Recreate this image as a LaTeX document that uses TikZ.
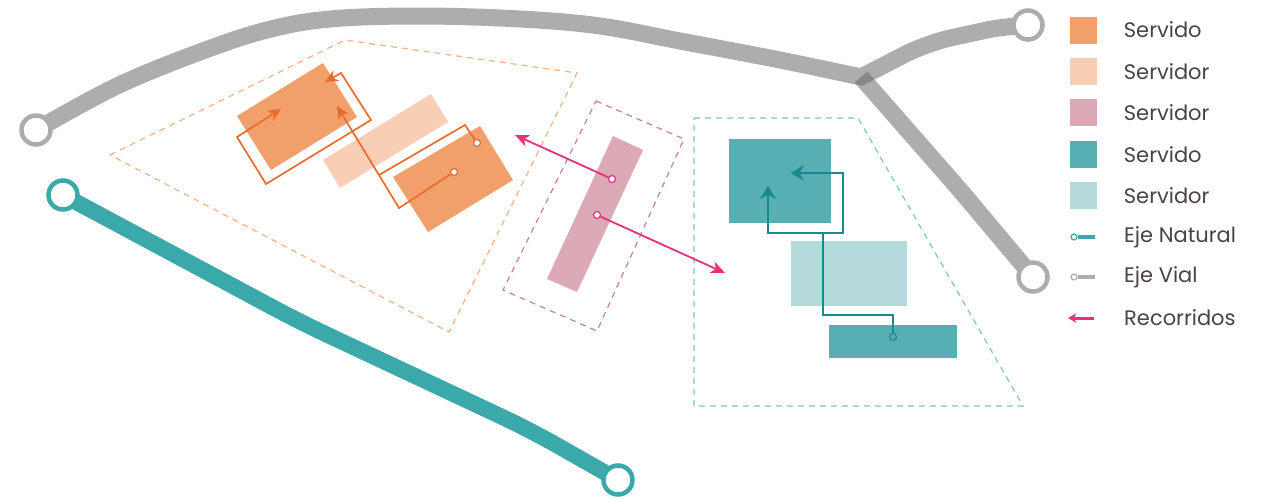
\documentclass[tikz,border=0pt]{standalone}
\usepackage{fontspec}
\setmainfont{Poppins}
\usepackage{tikz}
\usetikzlibrary{arrows.meta,calc,positioning}
\pgfdeclarelayer{fondo}
\pgfsetlayers{fondo,main}
\definecolor{naranja}{HTML}{F1A06B}
\definecolor{naranjaclaro}{HTML}{F8CFB4}
\definecolor{rosa}{HTML}{DCA9B6}
\definecolor{turquesa}{HTML}{57AFB3}
\definecolor{turquesaclaro}{HTML}{B5DADC}
\definecolor{lineanaranja}{HTML}{E96C2C}
\definecolor{linearosa}{HTML}{E6307A}
\definecolor{lineaturquesa}{HTML}{178A8E}
\definecolor{puntnaranja}{HTML}{F7AF84}
\definecolor{puntrosa}{HTML}{CC7C9E}
\definecolor{puntturquesa}{HTML}{7EC5C8}
\definecolor{gris}{HTML}{6A6A6A}
\definecolor{grisclaro}{HTML}{ADADAD}
\definecolor{camino}{HTML}{3BA8AA}
\definecolor{texto}{HTML}{4A4244}
\tikzset{
  vial/.style={draw=gris,line width=17pt,opacity=0.55,rounded corners=20pt},
  natural/.style={draw=camino,line width=16pt,rounded corners=30pt},
  extremo/.style={circle,draw=#1,fill=white,line width=4.5pt,minimum size=29pt,inner sep=0pt},
  zona/.style={draw=#1,line width=1.2pt,dash pattern=on 6pt off 5pt},
  recO/.style={draw=lineanaranja,line width=1.7pt,line join=miter},
  recR/.style={draw=linearosa,line width=1.8pt},
  recT/.style={draw=lineaturquesa,line width=1.7pt},
  flechaO/.tip={Stealth[length=13pt,width=12pt,inset=4pt]},
  flechaR/.tip={Stealth[length=14pt,width=12pt,inset=4pt]},
  flechaT/.tip={Stealth[length=13pt,width=16pt,inset=4.5pt]},
  pto/.style={circle,draw=#1,fill=white,line width=1.2pt,minimum size=7pt,inner sep=0pt},
  cuadro/.style={minimum size=27pt,inner sep=0pt},
  etiq/.style={inner sep=0pt,anchor=west,text=texto,font=\fontsize{21}{24}\selectfont}
}

\begin{document}
\begin{tikzpicture}[x=1pt,y=-1pt]
\useasboundingbox (0,0) rectangle (1268,498);
% ejes
\node[extremo=grisclaro] (vial1) at (36,130) {};
\node[extremo=grisclaro] (vial2) at (1028,25) {};
\node[extremo=grisclaro] (vial3) at (1033,277) {};
\node[extremo=camino] (nat1) at (63,195) {};
\node[extremo=camino] (nat2) at (618,480) {};
\coordinate (cruce) at (861,77);
\begin{pgfonlayer}{fondo}
\draw[vial,rounded corners=0pt] plot[smooth,tension=0.6] coordinates {(vial1.center) (117,86) (200,52) (267,30) (330,19) (420,16) (520,19) (600,26) (680,41) (780,60) (cruce)}
  [rounded corners=25pt] -- (927,43) -- (1010,25) -- (vial2.center);
\draw[vial] (cruce) -- (960,190) -- (vial3.center);
\draw[natural] (nat1.center) -- (300,322) -- (530,430) -- (nat2.center);
\end{pgfonlayer}
% zonas
\draw[zona=puntnaranja] (110,155) -- (345,40) -- (577,73) -- (449,332) -- cycle;
\draw[zona=puntrosa] (596,101) -- (684,139) -- (597,331) -- (503,290) -- cycle;
\draw[zona=puntturquesa] (694,118) -- (858,118) -- (1023,406) -- (694,406) -- cycle;
% bloques
\fill[naranja] (237,116) -- (323,63) -- (357,117) -- (271,170) -- cycle;
\fill[naranjaclaro] (323,160) -- (431,94) -- (448,122) -- (340,188) -- cycle;
\fill[naranja] (393,177) -- (480,126) -- (513,180) -- (428,232) -- cycle;
\fill[rosa] (613,136) -- (643,150) -- (577,292) -- (547,279) -- cycle;
\fill[turquesa] (729,139) rectangle (831,223);
\fill[turquesaclaro] (791,241) rectangle (907,306);
\fill[turquesa] (829,325) rectangle (957,358);
% recorridos naranjas
\coordinate (a1) at (281,109);
\coordinate (a2) at (325,82);
\coordinate (a3) at (337,106);
\node[pto=lineanaranja] (o1) at (454,172) {};
\node[pto=lineanaranja] (o2) at (477,143) {};
\draw[recO,flechaO-flechaO]
  (a1) -- (237,137) -- (266,184) -- (371,120) -- (341,73) -- (a2);
\draw[recO,-flechaO] (o1) -- (399,208) -- (a3);
\draw[recO] (o2) -- (465,125) -- (379,175);
% recorridos rosas
\node[pto=linearosa] (p1) at (612,179) {};
\node[pto=linearosa] (p2) at (597,215) {};
\coordinate (r1) at (515,135);
\coordinate (r2) at (725,273);
\draw[recR,-flechaR] (p1) -- (r1);
\draw[recR,-flechaR] (p2) -- (r2);
% recorridos turquesa
\node[pto=lineaturquesa,fill=none] (q1) at (893,337) {};
\coordinate (nudo) at (823,233);
\coordinate (t1) at (768,186);
\coordinate (t2) at (791,173);
\draw[recT] (q1) -- (893,315) -- (823,315) -- (nudo);
\draw[recT,-flechaT] (nudo) -- (768,233) -- (t1);
\draw[recT,-flechaT] (nudo) -- (843,233) -- (843,173) -- (t2);
% leyenda
\node[cuadro,fill=naranja] (l1) at (1083,30) {};
\node[cuadro,fill=naranjaclaro,below=14pt of l1] (l2) {};
\node[cuadro,fill=rosa,below=14pt of l2] (l3) {};
\node[cuadro,fill=turquesa,below=14pt of l3] (l4) {};
\node[cuadro,fill=turquesaclaro,below=14pt of l4] (l5) {};
\node[etiq,right=27pt of l1] (e1) {Servido};
\node[etiq,right=27pt of l2] (e2) {Servidor};
\node[etiq,right=27pt of l3] (e3) {Servidor};
\node[etiq,right=27pt of l4] (e4) {Servido};
\node[etiq,right=27pt of l5] (e5) {Servidor};
\node[pto=camino,minimum size=6pt] (ln) at (1074,237) {};
\coordinate (ln2) at (1095,237);
\draw[camino,line width=3.5pt] (ln) -- (ln2);
\node[etiq] (e6) at (1124,237) {Eje Natural};
\node[pto=grisclaro,minimum size=6pt] (lv) at (1074,277) {};
\coordinate (lv2) at (1095,277);
\draw[grisclaro,line width=3.5pt] (lv) -- (lv2);
\node[etiq] (e7) at (1124,277) {Eje Vial};
\coordinate (lr1) at (1094,318);
\coordinate (lr2) at (1068,318);
\draw[linearosa,line width=3pt,-{Stealth[length=8pt,width=9pt,inset=2pt]}] (lr1) -- (lr2);
\node[etiq] (e8) at (1124,318) {Recorridos};
\end{tikzpicture}
\end{document}
